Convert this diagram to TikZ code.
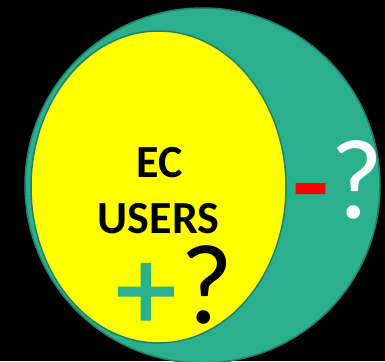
\documentclass[tikz,border=0pt]{standalone}
\usepackage{fontspec}
\setmainfont{Carlito}
\newfontfamily\heavysym[FakeBold=2]{Carlito}
\usepackage{tikz}
\usetikzlibrary{positioning}
\definecolor{teal}{RGB}{43,176,142}
\definecolor{darkteal}{RGB}{32,128,104}
\definecolor{ecyellow}{RGB}{255,255,0}
\tikzset{
  bigsym/.style={inner sep=0pt, anchor=base, font=\fontsize{114}{114}\selectfont},
  sign/.style={inner sep=0pt, anchor=base, font=\heavysym\fontsize{118}{118}\selectfont},
  label/.style={inner sep=0pt, anchor=base, font=\fontsize{46}{46}\selectfont\bfseries}
}

\begin{document}
\begin{tikzpicture}[x=1pt, y=-1pt]
      \useasboundingbox[fill=black] (0,0) rectangle (385,361);
      \begin{scope}
        \clip (0,0) rectangle (385,361);
        \draw[darkteal, fill=teal, line width=1.5pt] (202.5,185.5) circle (177.5);
        \draw[darkteal, fill=ecyellow, line width=1.5pt] (158.5,187) ellipse (127.5 and 156);
      \end{scope}

      \node[label] (ec) at (160,177) {EC};
      \node[label] (users) at (158.5,233) {USERS};

      \node[sign, color=teal] (plus) at (146,329) {+};
      \node[bigsym, color=black] (qin) at (207,323) {?};
      \node[sign, color=red] (minus) at (310.5,222) {-};
      \node[bigsym, color=white] (qout) at (357,218) {?};
    \end{tikzpicture}
\end{document}
